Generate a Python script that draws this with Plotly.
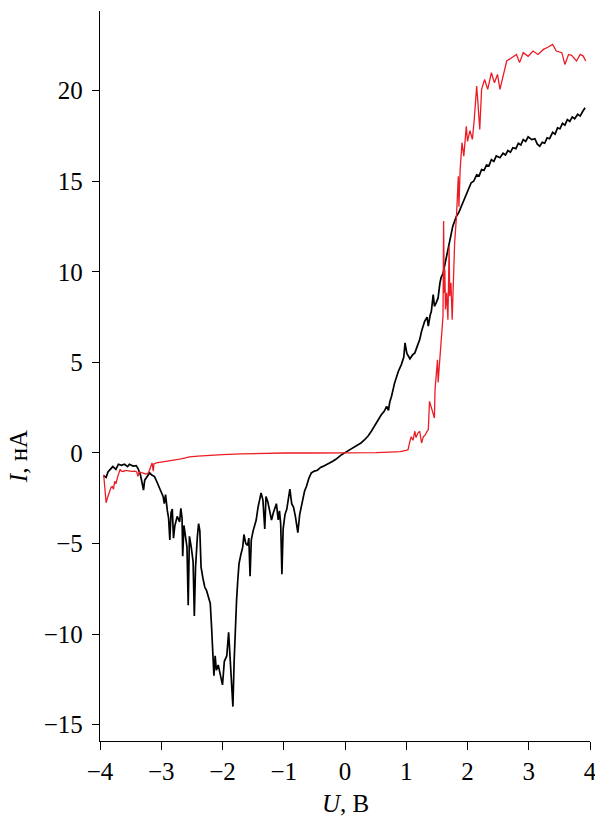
import plotly.graph_objects as go

# Voltage sweep (V) and current (nA) for the black trace
black_u = [-3.94, -3.90, -3.87, -3.82, -3.79, -3.74, -3.70, -3.65, -3.60, -3.55, -3.52, -3.46, -3.41, -3.38,
           -3.34, -3.31, -3.29, -3.27, -3.23, -3.19, -3.16, -3.11, -3.07, -3.03, -2.99, -2.97, -2.95, -2.93,
           -2.90, -2.88, -2.86, -2.84, -2.82, -2.80, -2.78, -2.74, -2.70, -2.68, -2.66, -2.65, -2.63, -2.61,
           -2.58, -2.56, -2.54, -2.51, -2.48, -2.46, -2.44, -2.41, -2.39, -2.37, -2.35, -2.32, -2.29, -2.26,
           -2.23, -2.20, -2.18, -2.16, -2.14, -2.12, -2.10, -2.07, -2.04, -2.00, -1.97, -1.93, -1.90, -1.88,
           -1.86, -1.84, -1.83, -1.81, -1.80, -1.78, -1.77, -1.75, -1.73, -1.70, -1.67, -1.65, -1.62, -1.59,
           -1.57, -1.55, -1.53, -1.50, -1.47, -1.45, -1.42, -1.39, -1.37, -1.34, -1.31, -1.29, -1.26, -1.23,
           -1.20, -1.17, -1.14, -1.12, -1.09, -1.07, -1.05, -1.03, -1.01, -0.98, -0.95, -0.92, -0.90, -0.87,
           -0.84, -0.81, -0.77, -0.74, -0.70, -0.66, -0.63, -0.59, -0.55, -0.50, -0.45, -0.40, -0.36, -0.30,
           -0.25, -0.20, -0.15, -0.10, -0.05, 0.00, 0.08, 0.14, 0.19, 0.26, 0.32, 0.38, 0.43, 0.48, 0.54,
           0.59, 0.64, 0.68, 0.71, 0.73, 0.76, 0.81, 0.87, 0.92, 0.96, 0.98, 1.01, 1.03, 1.06, 1.10, 1.14,
           1.18, 1.22, 1.25, 1.30, 1.34, 1.36, 1.39, 1.41, 1.44, 1.46, 1.49, 1.52, 1.55, 1.57, 1.60, 1.63,
           1.66, 1.70, 1.73, 1.76, 1.79, 1.82, 1.86, 1.90, 1.94, 1.98, 2.02, 2.06, 2.10, 2.15, 2.19, 2.23,
           2.27, 2.31, 2.35, 2.39, 2.43, 2.47, 2.53, 2.58, 2.62, 2.66, 2.70, 2.74, 2.79, 2.83, 2.87, 2.91,
           2.95, 2.99, 3.05, 3.10, 3.14, 3.18, 3.22, 3.26, 3.30, 3.34, 3.39, 3.43, 3.47, 3.51, 3.55, 3.59,
           3.63, 3.67, 3.71, 3.75, 3.80, 3.84, 3.88, 3.92]
black_i = [-1.25, -1.35, -1.05, -0.85, -0.75, -0.90, -0.62, -0.68, -0.62, -0.75, -0.62, -0.72, -0.70, -0.85,
           -1.20, -1.70, -2.05, -1.50, -1.30, -1.10, -1.20, -1.30, -1.60, -1.93, -2.20, -2.40, -2.80, -2.30,
           -3.20, -3.60, -4.80, -3.30, -3.10, -4.70, -4.05, -3.50, -3.80, -3.05, -3.60, -5.70, -4.00, -4.60,
           -5.20, -8.40, -4.60, -5.20, -6.00, -9.00, -6.30, -4.60, -3.90, -4.30, -6.30, -6.90, -7.40, -7.60,
           -7.90, -8.30, -9.50, -10.9, -12.3, -11.2, -12.0, -11.7, -12.1, -12.8, -11.5, -11.2, -9.90, -11.0,
           -11.7, -13.0, -14.0, -11.5, -10.7, -8.30, -8.10, -7.00, -6.10, -5.60, -5.20, -4.50, -5.00, -5.10,
           -4.70, -6.80, -4.80, -4.30, -4.00, -3.70, -3.00, -2.40, -2.20, -2.60, -4.20, -2.40, -2.70, -3.20,
           -3.70, -3.30, -2.90, -2.80, -3.70, -3.20, -3.90, -6.70, -4.20, -3.40, -3.10, -2.40, -2.00, -2.80,
           -3.00, -3.50, -4.40, -3.40, -2.70, -2.10, -1.85, -1.40, -1.10, -1.00, -0.95, -0.80, -0.74, -0.65,
           -0.55, -0.46, -0.35, -0.20, -0.08, 0.02, 0.18, 0.28, 0.37, 0.55, 0.73, 0.95, 1.20, 1.50, 1.84,
           2.10, 2.30, 2.57, 2.35, 2.80, 3.13, 3.87, 4.50, 4.88, 5.30, 6.08, 5.50, 5.34, 5.20, 5.40, 5.52,
           5.90, 6.26, 6.72, 7.27, 7.50, 7.00, 7.60, 7.82, 8.75, 8.10, 8.30, 8.56, 9.39, 9.70, 9.90, 10.4,
           10.86, 11.5, 12.0, 12.52, 12.8, 13.07, 13.3, 13.62, 13.9, 14.18, 14.6, 14.92, 15.0, 15.35, 15.3,
           15.65, 15.6, 15.9, 15.85, 16.2, 16.1, 16.4, 16.3, 16.55, 16.45, 16.7, 16.6, 16.85, 16.8, 17.1,
           17.0, 17.3, 17.2, 17.45, 17.3, 17.35, 17.05, 16.94, 17.15, 17.1, 17.4, 17.35, 17.7, 17.6, 17.95,
           17.9, 18.2, 18.1, 18.4, 18.3, 18.55, 18.45, 18.7, 18.6, 18.85, 19.06]

# Voltage sweep (V) and current (nA) for the red trace
red_u = [-3.94, -3.93, -3.91, -3.90, -3.88, -3.86, -3.84, -3.82, -3.80, -3.78, -3.76, -3.74, -3.71, -3.69,
         -3.67, -3.65, -3.62, -3.58, -3.53, -3.48, -3.43, -3.40, -3.38, -3.36, -3.32, -3.28, -3.25, -3.21,
         -3.18, -3.15, -3.13, -3.12, -3.08, -3.04, -2.95, -2.85, -2.78, -2.70, -2.62, -2.54, -2.40, -2.20,
         -2.00, -1.70, -1.45, -1.00, -0.50, 0.00, 0.50, 0.73, 0.90, 1.00, 1.03, 1.05, 1.08, 1.11, 1.14,
         1.16, 1.19, 1.22, 1.25, 1.28, 1.31, 1.34, 1.36, 1.38, 1.40, 1.43, 1.46, 1.47, 1.49, 1.51, 1.52,
         1.55, 1.58, 1.60, 1.61, 1.62, 1.63, 1.64, 1.66, 1.68, 1.70, 1.71, 1.73, 1.75, 1.77, 1.79, 1.82,
         1.83, 1.85, 1.86, 1.88, 1.91, 1.94, 1.98, 2.00, 2.04, 2.08, 2.11, 2.15, 2.17, 2.20, 2.23, 2.28,
         2.33, 2.39, 2.44, 2.49, 2.53, 2.58, 2.64, 2.72, 2.80, 2.85, 2.91, 2.99, 3.07, 3.15, 3.24, 3.31,
         3.39, 3.45, 3.54, 3.59, 3.65, 3.70, 3.78, 3.84, 3.89, 3.93]
red_i = [-1.20, -1.70, -2.40, -2.75, -2.50, -2.30, -2.20, -1.90, -1.85, -2.00, -1.57, -1.70, -1.29, -1.10,
         -0.90, -1.00, -1.02, -0.96, -1.00, -1.02, -1.00, -1.05, -1.29, -1.05, -1.08, -1.12, -1.16, -1.10,
         -0.83, -0.55, -1.00, -0.60, -0.55, -0.52, -0.48, -0.42, -0.40, -0.34, -0.28, -0.22, -0.17, -0.12,
         -0.09, -0.05, -0.02, 0.00, 0.00, 0.00, 0.02, 0.05, 0.08, 0.15, 0.18, 0.50, 0.90, 0.70, 1.20,
         0.85, 1.10, 1.20, 0.55, 0.90, 1.00, 1.20, 1.29, 2.85, 2.60, 2.21, 1.93, 3.50, 4.23, 5.15, 3.90,
         5.15, 6.26, 7.55, 12.8, 8.84, 10.13, 7.92, 8.84, 7.36, 11.41, 8.65, 9.40, 7.36, 9.50, 11.6, 13.07,
         14.18, 15.28, 13.6, 15.65, 17.13, 16.39, 18.04, 17.2, 17.8, 17.31, 18.41, 20.25, 19.34, 17.86,
         20.07, 20.62, 20.07, 21.0, 20.44, 20.9, 20.07, 20.8, 21.64, 21.82, 22.0, 21.55, 22.1, 21.9,
         22.19, 22.0, 22.28, 22.4, 22.56, 22.19, 22.1, 21.45, 22.0, 21.95, 21.64, 22.0, 21.91, 21.64]

x_ticks = [-4, -3, -2, -1, 0, 1, 2, 3, 4]
y_ticks = [-15, -10, -5, 0, 5, 10, 15, 20]

FONT = "Liberation Serif"

fig = go.Figure()
fig.add_trace(go.Scatter(x=black_u, y=black_i, mode="lines",
                         line=dict(color="#000000", width=1.7), showlegend=False))
fig.add_trace(go.Scatter(x=red_u, y=red_i, mode="lines",
                         line=dict(color="#ec1c24", width=1.3), showlegend=False))

axis_common = dict(showline=True, linecolor="black", linewidth=1.3, ticks="outside",
                   tickcolor="black", tickwidth=1.3, showgrid=False, zeroline=False,
                   ticklabeloverflow="allow", automargin=False,
                   tickfont=dict(family=FONT, size=25, color="black"))

fig.update_xaxes(range=[-4, 4], tickvals=x_ticks, ticklen=8, **axis_common)
fig.update_yaxes(range=[-15.9, 24.4], tickvals=y_ticks, ticklen=7, ticklabelstandoff=4,
                 **axis_common)

fig.add_annotation(text="<i>U</i>, В", xref="paper", yref="paper", x=0.5, y=-0.086,
                   xanchor="center", yanchor="middle", showarrow=False,
                   font=dict(family=FONT, size=25, color="black"))
fig.add_annotation(text="<i>I</i>, нА", xref="paper", yref="paper", x=-0.167, y=0.389,
                   xanchor="center", yanchor="middle", textangle=-90, showarrow=False,
                   font=dict(family=FONT, size=25, color="black"))

fig.update_layout(width=595, height=820, margin=dict(l=100, r=5, t=11, b=79),
                  plot_bgcolor="white", paper_bgcolor="white")

fig.write_html("out.html")
